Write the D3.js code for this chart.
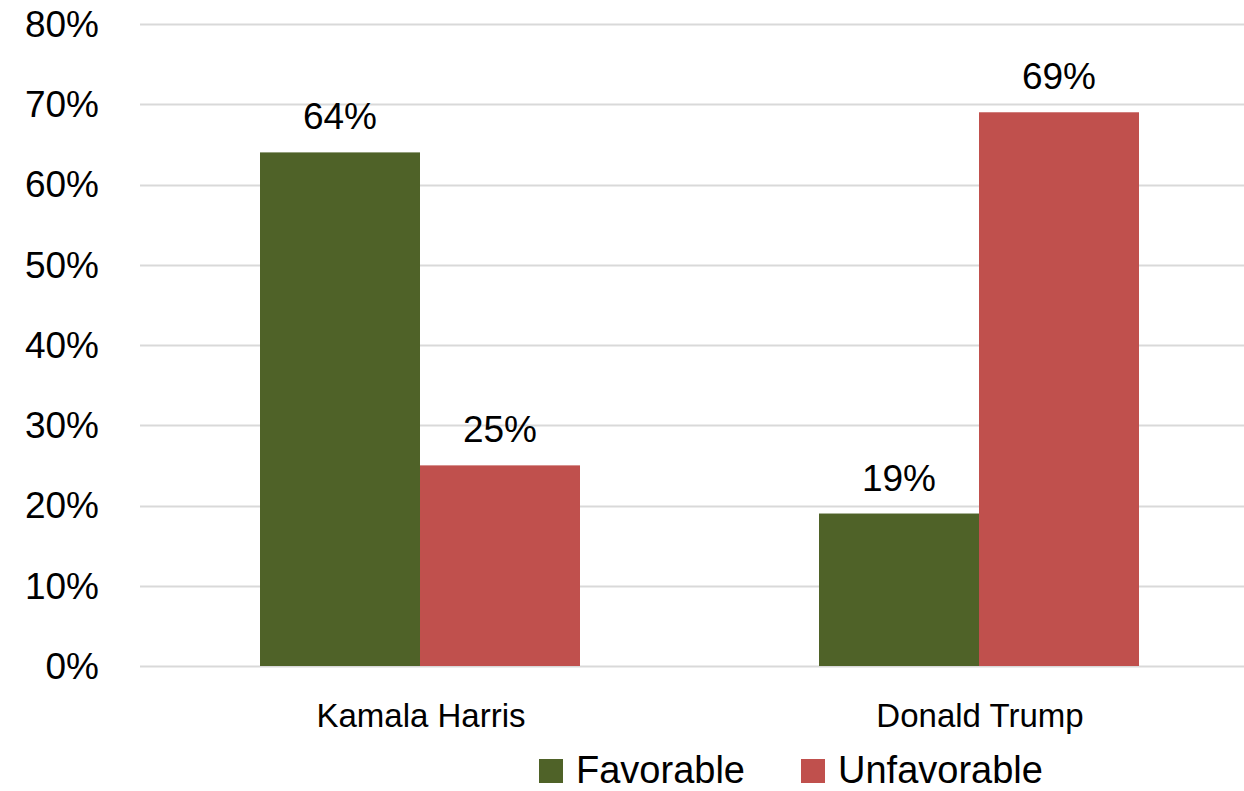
<!DOCTYPE html>
<html><head><meta charset="utf-8">
<script src="https://cdn.jsdelivr.net/npm/d3@7"></script>
<style>body{margin:0;background:#fff}svg{display:block}</style>
</head><body>
<script>
const categories = ["Kamala Harris", "Donald Trump"];
const seriesNames = ["Favorable", "Unfavorable"];
const favorable = [64, 19];
const unfavorable = [25, 69];
const yTicks = [0, 10, 20, 30, 40, 50, 60, 70, 80];
const colors = ["#4F6228", "#C0504D"];

const W = 1244, H = 791;
const svg = d3.select("body").append("svg").attr("width", W).attr("height", H);
const font = "'Liberation Sans', Arial, sans-serif";

const y = d3.scaleLinear().domain([0, 80]).range([666, 24]);
const x0 = d3.scaleBand().domain(categories).range([140.5, 1258.5]).paddingInner(0).paddingOuter(0);
const x1 = d3.scaleBand().domain(seriesNames).range([0, 320]);

// gridlines
svg.append("g").selectAll("line").data(yTicks).join("line")
  .attr("x1", 140).attr("x2", W)
  .attr("y1", d => Math.round(y(d)) + 0.5).attr("y2", d => Math.round(y(d)) + 0.5)
  .attr("stroke", "#d9d9d9").attr("stroke-width", 2);

// y axis labels
svg.append("g").selectAll("text").data(yTicks).join("text")
  .attr("x", 99).attr("y", d => y(d)).attr("dy", "0.35em")
  .attr("text-anchor", "end").attr("font-family", font).attr("font-size", 37).attr("fill", "#000")
  .text(d => d + "%");

const data = categories.map((c, i) => ({cat: c, vals: [favorable[i], unfavorable[i]]}));
const groups = svg.append("g").selectAll("g").data(data).join("g")
  .attr("transform", d => `translate(${x0(d.cat) + x0.bandwidth() / 2 - 160},0)`);

groups.selectAll("rect").data(d => d.vals.map((v, j) => ({v, s: seriesNames[j], j}))).join("rect")
  .attr("x", d => x1(d.s)).attr("width", x1.bandwidth())
  .attr("y", d => y(d.v)).attr("height", d => y(0) - y(d.v))
  .attr("fill", d => colors[d.j]);

groups.selectAll("text").data(d => d.vals.map((v, j) => ({v, s: seriesNames[j], j}))).join("text")
  .attr("x", d => x1(d.s) + x1.bandwidth() / 2).attr("y", d => y(d.v) - 23)
  .attr("text-anchor", "middle").attr("font-family", font).attr("font-size", 37).attr("fill", "#000")
  .text(d => d.v + "%");

// category labels
svg.append("g").selectAll("text").data(categories).join("text")
  .attr("x", d => x0(d) + x0.bandwidth() / 2 + 1).attr("y", 727)
  .attr("text-anchor", "middle").attr("font-family", font).attr("font-size", 33).attr("fill", "#000")
  .text(d => d);

// legend
const legX = [539, 801];
const leg = svg.append("g").selectAll("g").data(seriesNames).join("g")
  .attr("transform", (d, i) => `translate(${legX[i]},759)`);
leg.append("rect").attr("width", 24).attr("height", 24).attr("fill", (d, i) => colors[i]);
leg.append("text").attr("x", 37).attr("y", 24)
  .attr("font-family", font).attr("font-size", 38).attr("fill", "#000").text(d => d);
</script>
</body></html>
